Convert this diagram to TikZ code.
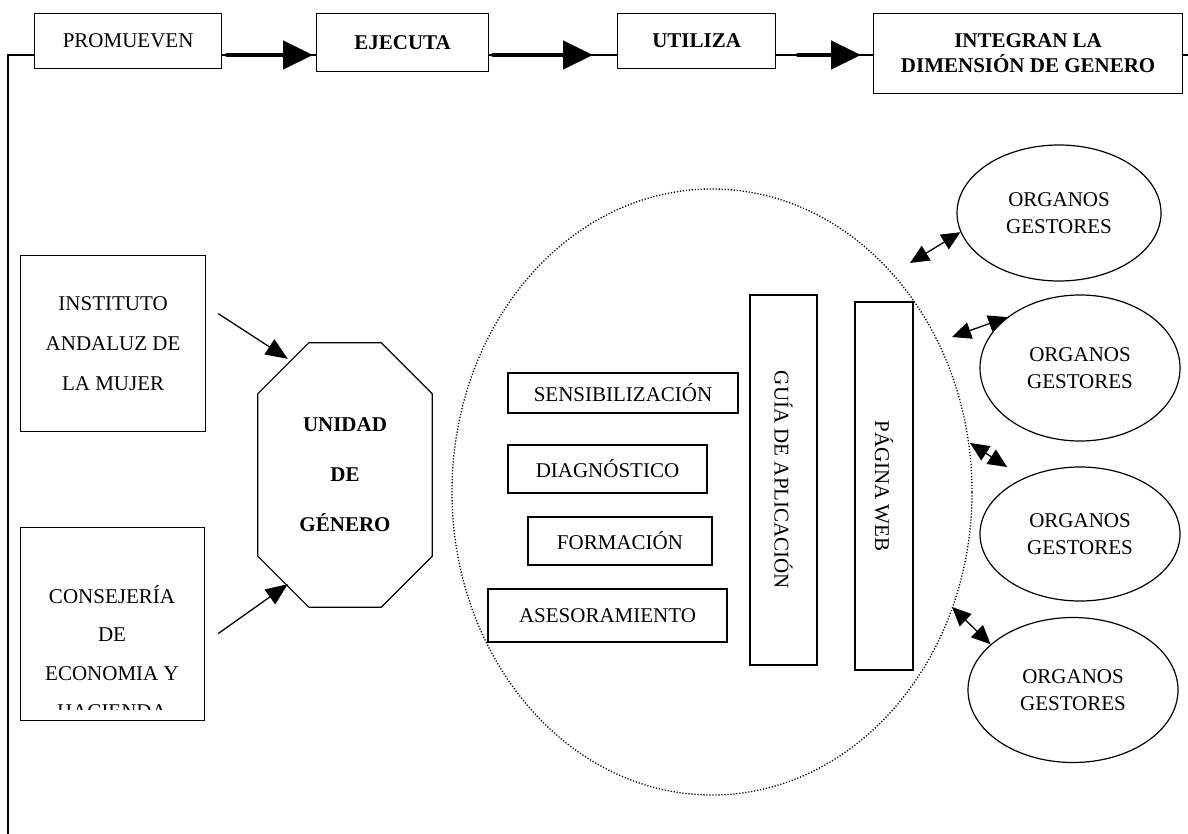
\documentclass[tikz,border=0pt]{standalone}
\usepackage{fontspec}
\setmainfont{Liberation Serif}
\usetikzlibrary{arrows.meta,calc,shapes.geometric}

\newcommand\fsz[1]{\fontsize{21}{#1}\selectfont}

\begin{document}
\begin{tikzpicture}[x=1pt, y=-1pt,
    box/.style={draw, line width=1.2pt, align=center, inner sep=0pt, font=\fsz{25}},
    bbox/.style={box, font=\fsz{25}\bfseries},
    bigarrow/.style={line width=4.5pt, line cap=round, -{Triangle[length=30pt, width=28pt]}},
    inarrow/.style={line width=1.3pt, -{Triangle[length=22pt, width=18pt]}},
    dblarrow/.style={line width=1.3pt, {Triangle[length=19pt, width=17pt]}-{Triangle[length=19pt, width=17pt]}},
    organo/.style={draw, ellipse, line width=1.2pt, align=center, inner sep=0pt, font=\fsz{27}}]
    \useasboundingbox (0,0) rectangle (1188,834);

    % Draw top row
    \node[box, minimum width=187pt, minimum height=55pt, anchor=north west] (prom) at (34,13) {PROMUEVEN};
    \node[bbox, minimum width=172pt, minimum height=58pt, anchor=north west] (ejec) at (316,13) {EJECUTA};
    \node[bbox, minimum width=158pt, minimum height=55pt, anchor=north west] (util) at (617,13) {UTILIZA};
    \node[bbox, minimum width=309pt, minimum height=80pt, anchor=north west] (integ) at (873,13) {INTEGRAN LA\\DIMENSIÓN DE GENERO};

    % Draw flow line and big arrows
    \coordinate (row) at (0,55);
    \coordinate (leftend) at (8,834);
    \coordinate (rightend) at (1188,55);
    \draw[line width=1.2pt] (prom.west |- row) -| (leftend);
    \draw[line width=1.2pt] (prom.east |- row) -- (ejec.west |- row);
    \draw[bigarrow] ($(prom.east |- row)+(5,0)$) -- ($(ejec.west |- row)+(-3,0)$);
    \draw[line width=1.2pt] (ejec.east |- row) -- (util.west |- row);
    \draw[bigarrow] ($(ejec.east |- row)+(4,0)$) -- ($(util.west |- row)+(-24,0)$);
    \draw[line width=1.2pt] (util.east |- row) -- (integ.west |- row);
    \draw[bigarrow] ($(util.east |- row)+(22,0)$) -- ($(integ.west |- row)+(-12,0)$);
    \draw[line width=1.2pt] (integ.east |- row) -- (rightend);

    % Draw left boxes
    \node[box, font=\fsz{40}, minimum width=185pt, minimum height=176pt, anchor=north west] (inst) at (20,255) {INSTITUTO\\ANDALUZ DE\\LA MUJER};
    \node[box, minimum width=184pt, minimum height=193pt, anchor=north west] (conse) at (20,527) {};
    \begin{scope}
        \clip (conse.north west) rectangle ($(conse.south east)+(0,-12)$);
        \node[align=center, font=\fsz{38.5}] (consetxt) at (112,652) {CONSEJERÍA\\DE\\ECONOMIA Y\\HACIENDA};
    \end{scope}

    % Draw octagon
    \node[minimum width=174pt, minimum height=264pt, align=center, font=\fsz{50}\bfseries] (ug) at (345,475) {UNIDAD\\DE\\GÉNERO};
    \draw[line width=1.2pt] ($(ug.north west)+(51,0)$) -- ($(ug.north east)+(-51,0)$)
        -- ($(ug.north east)+(0,51)$) -- ($(ug.south east)+(0,-51)$)
        -- ($(ug.south east)+(-51,0)$) -- ($(ug.south west)+(51,0)$)
        -- ($(ug.south west)+(0,-51)$) -- ($(ug.north west)+(0,51)$) -- cycle;
    \draw[inarrow] ($(inst.east)+(12,-30)$) -- ($(ug.north west)+(30,16)$);
    \draw[inarrow] ($(conse.east)+(13,9.5)$) -- ($(ug.south west)+(30,-23)$);

    % Draw dotted ring and tools
    \node[draw, ellipse, line width=1.3pt, dash pattern=on 1.2pt off 1.8pt, minimum width=520pt, minimum height=606pt, inner sep=0pt] (ring) at (712,492) {};
    \node[box, minimum width=230pt, minimum height=40pt] (sens) at (623,393) {SENSIBILIZACIÓN};
    \node[box, minimum width=199pt, minimum height=48pt] (diag) at (607.5,469) {DIAGNÓSTICO};
    \node[box, minimum width=184pt, minimum height=48pt] (form) at (620,541) {FORMACIÓN};
    \node[box, minimum width=239pt, minimum height=53pt] (ases) at (607.5,615.5) {ASESORAMIENTO};
    \node[box, rotate=-90, minimum width=370pt, minimum height=67pt] (guia) at (783.5,480) {GUÍA DE APLICACIÓN};
    \node[box, rotate=-90, minimum width=368pt, minimum height=58pt] (web) at (884,486) {PÁGINA WEB};

    % Draw organs
    \node[organo, minimum width=204pt, minimum height=136pt] (org1) at (1059,213) {ORGANOS\\GESTORES};
    \node[organo, minimum width=200pt, minimum height=146pt] (org2) at (1080,368) {ORGANOS\\GESTORES};
    \node[organo, minimum width=200pt, minimum height=134pt] (org3) at (1080,534) {ORGANOS\\GESTORES};
    \node[organo, minimum width=210pt, minimum height=145pt] (org4) at (1073,690) {ORGANOS\\GESTORES};

    % Draw double arrows
    \coordinate (d1) at (910,263);
    \coordinate (d2) at (952,337);
    \coordinate (d3) at (970,443);
    \coordinate (d4) at (952,607);
    \draw[dblarrow] (d1) -- (org1.191);
    \draw[dblarrow] (d2) -- (org2.145);
    \draw[dblarrow, shorten >=20pt] (d3) -- (org3.135);
    \draw[dblarrow] (d4) -- (org4.151);
\end{tikzpicture}
\end{document}
